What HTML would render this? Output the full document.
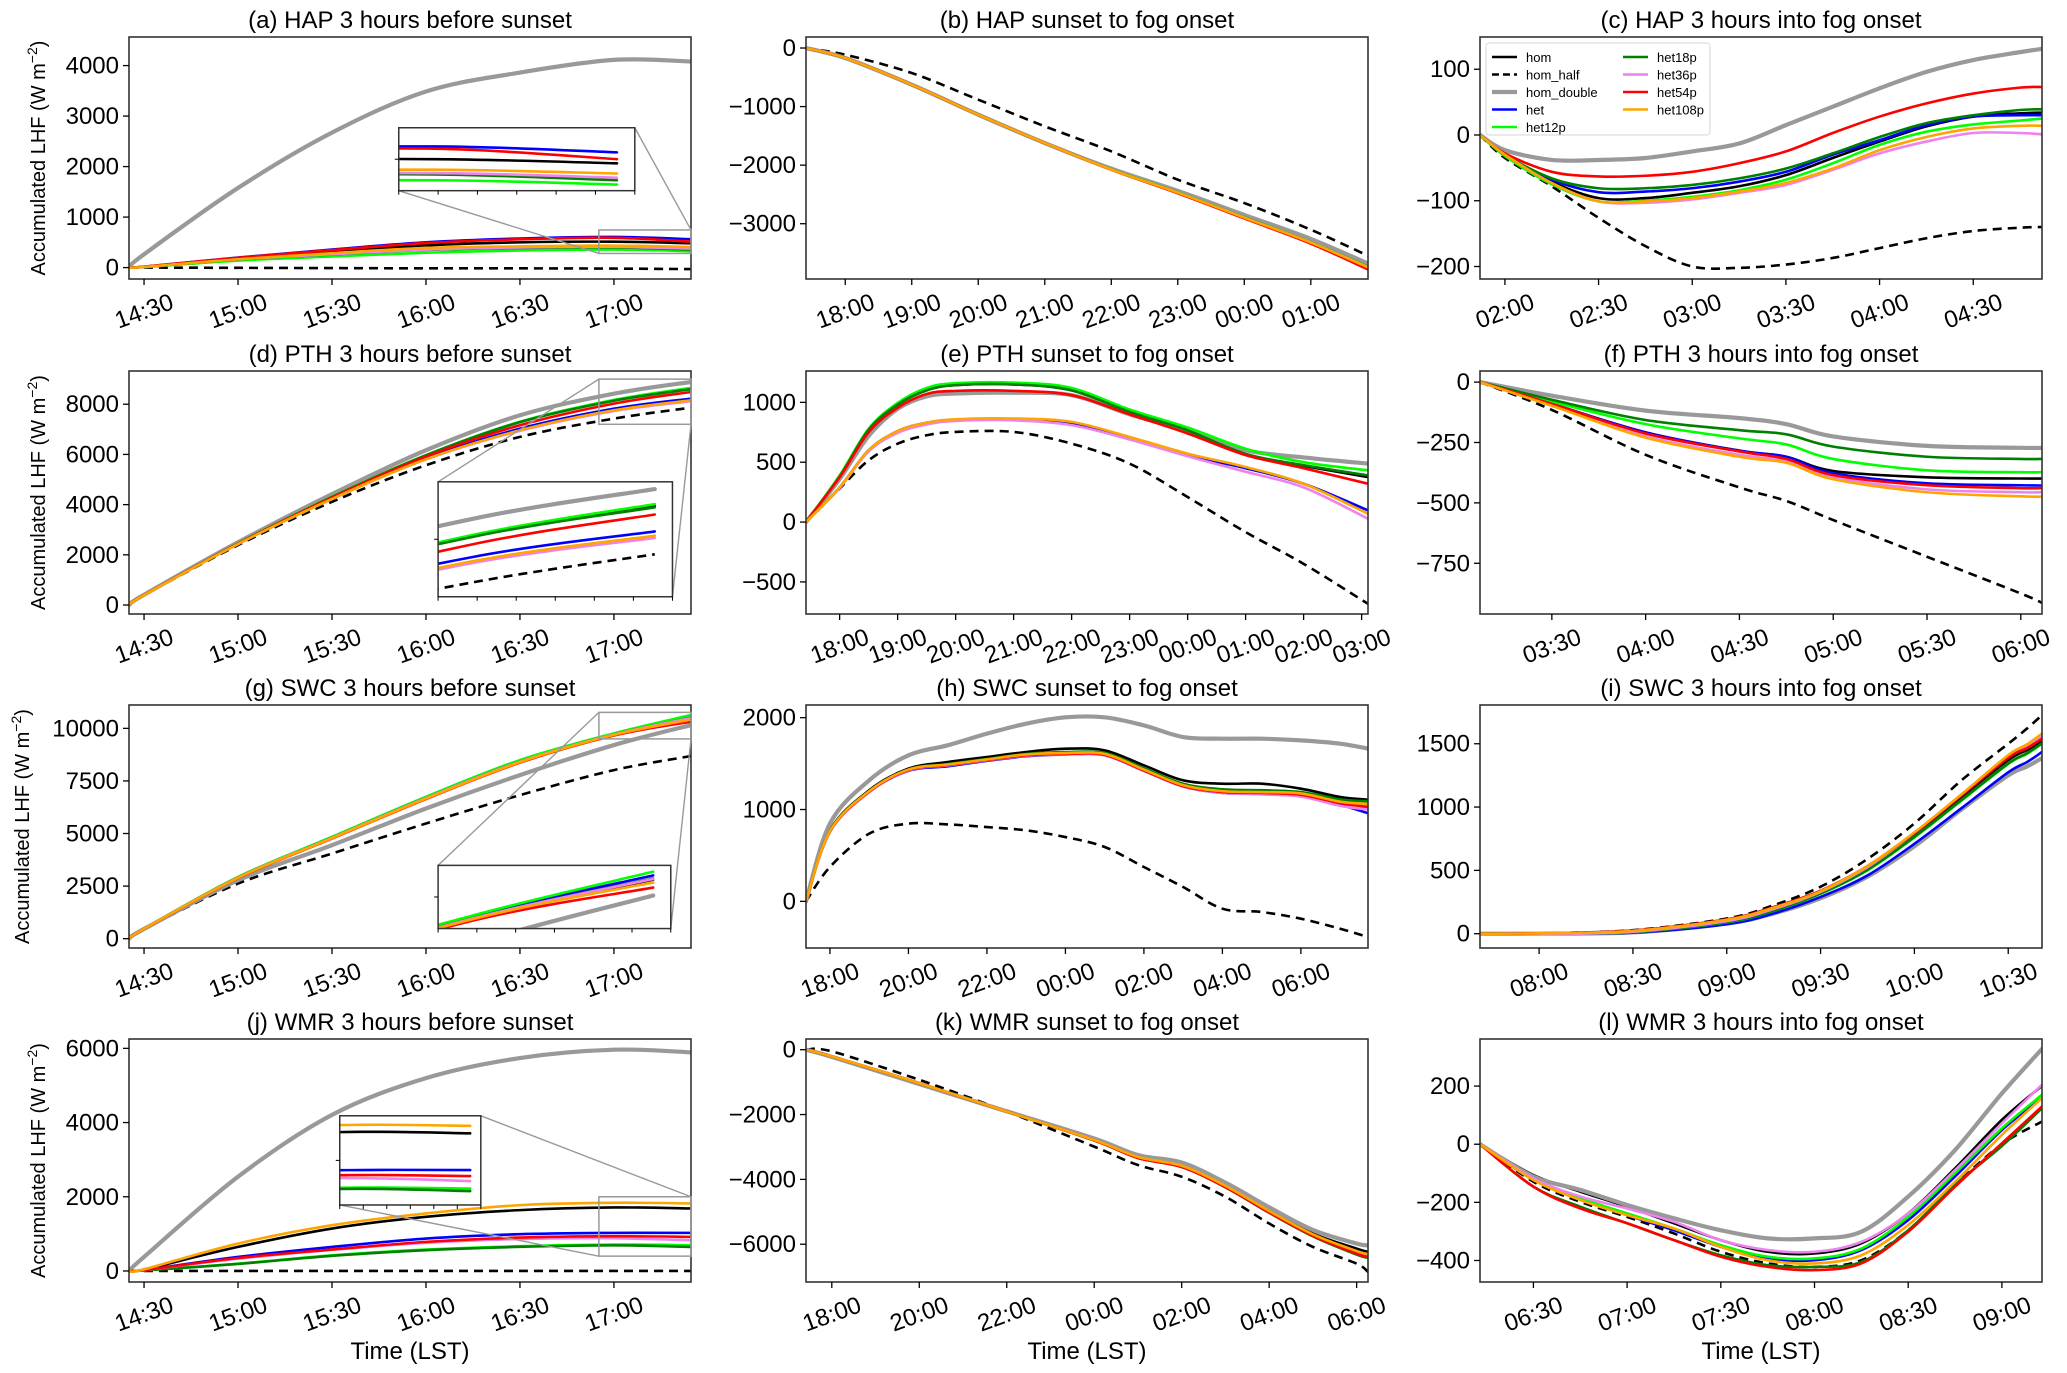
<!DOCTYPE html>
<html><head><meta charset="utf-8"><title>Accumulated LHF</title>
<style>
html,body{margin:0;padding:0;background:#fff;}
svg{display:block;font-family:"Liberation Sans","DejaVu Sans",sans-serif;}
</style></head>
<body>
<svg id="fig" width="2067" height="1373" viewBox="0 0 2067 1373" xmlns="http://www.w3.org/2000/svg"></svg>
<script>
// ---------- DATA ----------
const seriesNames = ["hom","hom_half","hom_double","het","het12p","het18p","het36p","het54p","het108p"];
// (a) HAP before sunset
const aTimes = [14.42,14.5,15.0,15.5,16.0,16.5,17.0,17.41];
const aHom = [0,15,170,300,438,500,513,482];
const aHalf = [0,0,-5,-10,-15,-15,-20,-30];
const aDouble = [0,263,1577,2673,3487,3862,4113,4081];
const aHet = [0,18,200,357,500,576,607,563];
const aHet12 = [0,10,138,220,294,340,357,325];
const aHet18 = [0,12,160,260,350,390,400,357];
const aHet36 = [0,12,165,265,355,400,410,376];
const aHet54 = [0,17,195,345,485,560,590,513];
const aHet108 = [0,14,165,285,390,420,435,407];
// (b) HAP sunset to fog
const bTimes = [17.41,18,19,20,21,22,23,24,25,25.86];
const bHom = [0,-171,-626,-1138,-1622,-2077,-2476,-2903,-3330,-3757];
const bHalf = [0,-114,-427,-882,-1337,-1764,-2248,-2647,-3102,-3546];
const bDouble = [0,-171,-626,-1138,-1622,-2060,-2440,-2850,-3260,-3680];
const bHet = [0,-171,-626,-1138,-1622,-2075,-2470,-2895,-3320,-3740];
const bHet12 = [0,-171,-626,-1138,-1622,-2070,-2465,-2890,-3315,-3730];
const bHet18 = [0,-171,-626,-1138,-1622,-2072,-2468,-2892,-3318,-3735];
const bHet36 = [0,-171,-626,-1138,-1622,-2075,-2470,-2895,-3320,-3740];
const bHet54 = [0,-171,-626,-1138,-1622,-2077,-2480,-2910,-3340,-3780];
const bHet108 = [0,-171,-626,-1138,-1622,-2074,-2470,-2897,-3322,-3745];
// (c) HAP into fog
const cTimes = [1.867,2.0,2.25,2.5,2.75,3.0,3.25,3.5,3.75,4.0,4.25,4.5,4.75,4.867];
const cHom = [0,-30,-71,-96,-96,-88,-78,-61,-35,-10,13,28,33,34];
const cHalf = [0,-35,-78,-126,-169,-200,-202,-197,-187,-172,-157,-146,-141,-140];
const cDouble = [0,-23,-38,-38,-35,-25,-13,15,43,71,96,114,126,131];
const cHet = [0,-30,-68,-87,-86,-81,-71,-56,-30,-8,15,28,30,30];
const cHet12 = [0,-32,-75,-101,-100,-94,-84,-68,-43,-15,5,16,22,25];
const cHet18 = [0,-30,-66,-81,-81,-76,-66,-51,-28,-3,18,30,38,39];
const cHet36 = [0,-30,-73,-101,-103,-98,-88,-76,-53,-28,-10,3,3,1];
const cHet54 = [0,-28,-56,-63,-62,-56,-43,-25,3,28,48,63,72,73];
const cHet108 = [0,-30,-73,-101,-101,-96,-86,-73,-51,-23,-3,10,14,14];
// (d) PTH before sunset
const dTimes = [14.42,14.5,15.0,15.5,16.0,16.5,17.0,17.41];
const dHom = [0,398,2454,4310,5968,7294,8156,8620];
const dHalf = [0,390,2387,4111,5570,6698,7427,7865];
const dDouble = [0,405,2500,4416,6167,7560,8422,8886];
const dHet = [0,398,2440,4250,5850,7029,7825,8223];
const dHet12 = [0,398,2454,4310,5968,7300,8170,8650];
const dHet18 = [0,398,2450,4300,5960,7285,8140,8600];
const dHet36 = [0,395,2430,4220,5800,6940,7730,8120];
const dHet54 = [0,398,2445,4280,5920,7162,8024,8488];
const dHet108 = [0,395,2430,4225,5810,6963,7759,8156];
// (e) PTH sunset to fog
const eTimes = [17.42,18,18.5,19,19.5,20,21,22,23,24,25,26,27.11];
const eHom = [0,380,767,980,1100,1144,1150,1100,920,770,560,470,376];
const eHalf = [0,280,516,655,725,753,753,655,488,209,-84,-349,-683];
const eDouble = [0,360,720,945,1050,1074,1080,1060,900,760,600,540,488];
const eHet = [0,290,600,760,830,855,860,820,700,560,450,320,98];
const eHet12 = [0,390,780,995,1120,1160,1165,1120,940,790,613,500,432];
const eHet18 = [0,380,770,980,1100,1144,1150,1100,920,765,570,475,390];
const eHet36 = [0,285,590,745,815,845,850,810,690,550,420,290,28];
const eHet54 = [0,375,750,955,1070,1096,1096,1060,900,740,560,450,320];
const eHet108 = [0,290,600,760,830,859,865,837,711,572,460,320,70];
// (f) PTH into fog
const fTimes = [3.117,3.5,4.0,4.5,4.75,5.0,5.5,6.0,6.113];
const fHom = [0,-90,-208,-284,-309,-368,-394,-399,-399];
const fHalf = [0,-115,-301,-436,-492,-571,-723,-875,-914];
const fDouble = [0,-56,-118,-149,-174,-225,-264,-272,-272];
const fHet = [0,-90,-208,-284,-309,-377,-419,-427,-428];
const fHet12 = [0,-81,-174,-233,-258,-318,-365,-373,-373];
const fHet18 = [0,-73,-157,-199,-216,-267,-309,-318,-318];
const fHet36 = [0,-98,-225,-301,-326,-394,-444,-456,-456];
const fHet54 = [0,-90,-213,-287,-318,-385,-427,-439,-439];
const fHet108 = [0,-98,-230,-309,-334,-402,-456,-473,-474];
// (g) SWC before sunset
const gTimes = [14.42,14.5,15.0,15.5,16.0,16.5,17.0,17.41];
const gHom = [0,476,2900,4790,6680,8410,9700,10476];
const gHalf = [0,460,2619,4048,5476,6825,8016,8683];
const gDouble = [0,460,2778,4444,6190,7778,9206,10159];
const gHet = [0,476,2920,4820,6720,8460,9740,10560];
const gHet12 = [0,476,2937,4841,6746,8492,9762,10635];
const gHet18 = [0,476,2910,4800,6690,8420,9710,10500];
const gHet36 = [0,476,2905,4795,6685,8415,9705,10490];
const gHet54 = [0,470,2880,4760,6640,8370,9660,10317];
const gHet108 = [0,472,2895,4780,6660,8395,9690,10420];
// (h) SWC sunset to fog
const hTimes = [17.39,18,19,20,21,22,23,24,25,26,27,28,29,30,31,31.71];
const hHom = [0,773,1209,1445,1517,1572,1626,1662,1644,1481,1318,1281,1281,1227,1136,1107];
const hHalf = [0,374,737,846,838,809,773,700,592,374,156,-80,-116,-189,-298,-388];
const hDouble = [0,846,1318,1590,1699,1826,1935,2004,2004,1916,1789,1771,1771,1753,1717,1663];
const hHet = [0,760,1190,1420,1470,1530,1580,1600,1590,1420,1250,1180,1170,1150,1050,960];
const hHet12 = [0,765,1195,1430,1490,1545,1600,1620,1610,1440,1270,1210,1200,1180,1090,1040];
const hHet18 = [0,768,1200,1435,1495,1550,1605,1625,1615,1450,1280,1220,1210,1190,1110,1090];
const hHet36 = [0,760,1190,1425,1480,1535,1585,1600,1590,1420,1250,1180,1165,1140,1040,1000];
const hHet54 = [0,760,1195,1430,1485,1540,1590,1605,1595,1425,1255,1190,1180,1160,1070,1027];
const hHet108 = [0,765,1200,1435,1490,1545,1600,1615,1605,1435,1265,1200,1190,1175,1085,1060];
// (i) SWC into fog
const iTimes = [7.685,8.0,8.5,9.0,9.25,9.5,9.75,10.0,10.25,10.5,10.6,10.68];
const iHom = [0,3,25,113,210,339,532,790,1081,1371,1450,1516];
const iHalf = [0,3,28,120,225,371,590,871,1210,1500,1620,1726];
const iDouble = [0,0,10,80,160,280,450,690,980,1250,1320,1387];
const iHet = [0,0,8,75,160,290,460,710,990,1274,1355,1435];
const iHet12 = [0,0,12,90,180,315,500,760,1050,1340,1420,1500];
const iHet18 = [0,0,12,92,182,318,505,765,1055,1345,1425,1505];
const iHet36 = [0,-3,15,100,195,330,525,795,1095,1400,1480,1560];
const iHet54 = [0,3,25,113,210,339,535,795,1090,1390,1465,1540];
const iHet108 = [0,3,22,110,205,335,535,800,1100,1410,1495,1581];
// (j) WMR before sunset
const jTimes = [14.42,14.5,15.0,15.5,16.0,16.5,17.0,17.41];
const jHom = [0,40,649,1144,1459,1640,1712,1685];
const jHalf = [0,0,0,0,0,0,0,0];
const jDouble = [0,378,2541,4207,5198,5739,5964,5892];
const jHet = [0,25,378,649,874,991,1027,1027];
const jHet12 = [0,15,198,423,577,667,712,694];
const jHet18 = [0,14,190,410,560,650,690,649];
const jHet36 = [0,22,330,570,760,860,880,829];
const jHet54 = [0,24,350,577,784,901,937,919];
const jHet108 = [0,45,739,1234,1550,1775,1838,1820];
// (k) WMR sunset to fog
const kTimes = [17.41,18,20,22,24,25,26,27,28,29,30,30.26];
const kHom = [0,-206,-1031,-1907,-2784,-3299,-3557,-4175,-4948,-5670,-6134,-6237];
const kHalf = [0,-52,-928,-1907,-2990,-3557,-3918,-4536,-5361,-6082,-6598,-6856];
const kDouble = [0,-220,-1060,-1900,-2740,-3250,-3480,-4100,-4860,-5560,-5980,-6031];
const kHet = [0,-206,-1031,-1907,-2790,-3330,-3600,-4220,-5000,-5720,-6260,-6350];
const kHet12 = [0,-206,-1031,-1907,-2795,-3335,-3610,-4230,-5015,-5740,-6300,-6400];
const kHet18 = [0,-206,-1031,-1907,-2800,-3340,-3620,-4245,-5030,-5755,-6320,-6420];
const kHet36 = [0,-206,-1031,-1907,-2790,-3325,-3600,-4220,-5000,-5720,-6265,-6360];
const kHet54 = [0,-206,-1031,-1907,-2800,-3340,-3620,-4240,-5020,-5740,-6290,-6392];
const kHet108 = [0,-206,-1031,-1907,-2786,-3310,-3580,-4200,-4975,-5695,-6210,-6300];
// (l) WMR into fog
const lTimes = [6.215,6.5,6.75,7.0,7.25,7.5,7.75,8.0,8.25,8.5,8.75,9.0,9.214];
const lHom = [0,-106,-163,-215,-272,-330,-370,-376,-341,-238,-83,84,201];
const lHalf = [0,-129,-198,-250,-307,-370,-410,-422,-399,-296,-140,0,78];
const lDouble = [0,-111,-157,-209,-255,-296,-324,-324,-301,-180,-20,175,328];
const lHet = [0,-123,-186,-244,-296,-353,-393,-399,-364,-261,-111,49,159];
const lHet12 = [0,-123,-186,-238,-290,-347,-387,-393,-359,-250,-100,55,170];
const lHet18 = [0,-146,-215,-272,-330,-382,-416,-422,-405,-296,-140,-6,124];
const lHet36 = [0,-117,-180,-221,-267,-330,-364,-370,-336,-238,-89,72,205];
const lHet54 = [0,-146,-221,-272,-330,-387,-422,-433,-410,-301,-146,3,130];
const lHet108 = [0,-123,-192,-244,-290,-353,-399,-410,-382,-278,-129,32,159];
// tick values
const tBefore = [14.5,15,15.5,16,16.5,17];
const tB = [18,19,20,21,22,23,24,25];
const tC = [2,2.5,3,3.5,4,4.5];
const tE = [18,19,20,21,22,23,24,25,26,27];
const tF = [3.5,4,4.5,5,5.5,6];
const tH = [18,20,22,24,26,28,30];
const tI = [8,8.5,9,9.5,10,10.5];
const tK = [18,20,22,24,26,28,30];
const tL = [6.5,7,7.5,8,8.5,9];
const yA = [0,1000,2000,3000,4000];
const yB = [0,-1000,-2000,-3000];
const yC = [100,0,-100,-200];
const yD = [0,2000,4000,6000,8000];
const yE = [1000,500,0,-500];
const yF = [0,-250,-500,-750];
const yG = [0,2500,5000,7500,10000];
const yH = [0,1000,2000];
const yI = [0,500,1000,1500];
const yJ = [0,2000,4000,6000];
const yK = [0,-2000,-4000,-6000];
const yL = [200,0,-200,-400];

// ---------- STYLE ----------
const styles = {
  hom:{c:"#000000",w:2.6},
  hom_half:{c:"#000000",w:2.6,dash:"9,6"},
  hom_double:{c:"#999999",w:4.2},
  het:{c:"#0000ff",w:2.6},
  het12p:{c:"#00ff00",w:2.6},
  het18p:{c:"#008000",w:2.6},
  het36p:{c:"#ee82ee",w:2.6},
  het54p:{c:"#ff0000",w:2.6},
  het108p:{c:"#ffa500",w:2.6}
};
const NS="http://www.w3.org/2000/svg";
const fig=document.getElementById('fig');
function mk(tag,attrs,parent){const e=document.createElementNS(NS,tag);for(const k in attrs)e.setAttribute(k,attrs[k]);(parent||fig).appendChild(e);return e;}
function fmt(h){let hh=Math.floor(h+1e-6);const mm=Math.round((h-hh)*60);hh=((hh%24)+24)%24;return String(hh).padStart(2,'0')+':'+String(mm).padStart(2,'0');}
function smoothPath(pts){
  let d='M'+pts[0][0].toFixed(2)+','+pts[0][1].toFixed(2);
  for(let i=0;i<pts.length-1;i++){
    const p0=pts[Math.max(0,i-1)],p1=pts[i],p2=pts[i+1],p3=pts[Math.min(pts.length-1,i+2)];
    const c1=[p1[0]+(p2[0]-p0[0])/6,p1[1]+(p2[1]-p0[1])/6];
    const c2=[p2[0]-(p3[0]-p1[0])/6,p2[1]-(p3[1]-p1[1])/6];
    d+=' C'+c1[0].toFixed(2)+','+c1[1].toFixed(2)+' '+c2[0].toFixed(2)+','+c2[1].toFixed(2)+' '+p2[0].toFixed(2)+','+p2[1].toFixed(2);
  }
  return d;
}
let clipId=0;
function drawLines(g,P,times,series,sx,sy){
  const cid='clip'+(clipId++);
  const cp=mk('clipPath',{id:cid},g);
  mk('rect',{x:P.x0,y:P.y0,width:P.x1-P.x0,height:P.y1-P.y0},cp);
  const lg=mk('g',{'clip-path':'url(#'+cid+')'},g);
  seriesNames.forEach((nm,si)=>{
    const vals=series[si];const st=styles[nm];
    const pts=times.map((t,i)=>[sx(t),sy(vals[i])]);
    const p=mk('path',{d:smoothPath(pts),fill:'none',stroke:st.c,'stroke-width':st.w,'stroke-linejoin':'round','stroke-linecap':st.dash?'butt':'round'},lg);
    if(st.dash)p.setAttribute('stroke-dasharray',st.dash);
    
    
  });
}
function panel(P){
  const g=mk('g',{});
  
  
  const sx=v=>P.x0+(v-P.xd[0])/(P.xd[1]-P.xd[0])*(P.x1-P.x0);
  const sy=v=>P.y1-(v-P.yd[0])/(P.yd[1]-P.yd[0])*(P.y1-P.y0);
  drawLines(g,P,P.times,P.series,sx,sy);
  const fr=mk('rect',{x:P.x0,y:P.y0,width:P.x1-P.x0,height:P.y1-P.y0,fill:'none',stroke:'#333','stroke-width':1.6},g);
  
  
  P.xt.forEach(t=>{
    const x=sx(t);
    mk('line',{x1:x,x2:x,y1:P.y1,y2:P.y1+6,stroke:'#000','stroke-width':1.3},g);
    const tx=mk('text',{x:x,y:P.y1+40,'font-size':24,'text-anchor':'middle',transform:'rotate(-20 '+x+' '+(P.y1+32)+')'},g);
    tx.textContent=fmt(t);
    
    
  });
  P.yt.forEach(v=>{
    const y=sy(v);
    mk('line',{x1:P.x0-6,x2:P.x0,y1:y,y2:y,stroke:'#000','stroke-width':1.3},g);
    const tx=mk('text',{x:P.x0-10,y:y+8,'font-size':24,'text-anchor':'end'},g);
    tx.textContent=(v<0?'\u2212':'')+Math.abs(v);
    
    
  });
  const tt=mk('text',{x:(P.x0+P.x1)/2,y:P.y0-9,'font-size':24,'text-anchor':'middle'},g);
  tt.textContent=P.title;
  
  
  if(P.ylab){
    const cy=(P.y0+P.y1)/2;
    const yl=mk('text',{x:P.ylab,y:cy,'font-size':20,'text-anchor':'middle',transform:'rotate(-90 '+P.ylab+' '+cy+')'},g);
    yl.innerHTML='Accumulated LHF (W m<tspan dy="-8" font-size="14">\u22122</tspan><tspan dy="8">)</tspan>';
    
    
  }
  if(P.xlab){
    const xl=mk('text',{x:(P.x0+P.x1)/2,y:1359,'font-size':24,'text-anchor':'middle'},g);
    xl.textContent='Time (LST)';
    
    
  }
  if(P.inset){
    const I=P.inset;
    const ix0=P.x0+I.fx[0]*(P.x1-P.x0),ix1=P.x0+I.fx[1]*(P.x1-P.x0);
    const iy0=P.y0+I.fy[0]*(P.y1-P.y0),iy1=P.y0+I.fy[1]*(P.y1-P.y0);
    const bx0=sx(I.xd[0]),bx1=Math.min(sx(I.xd[1]),P.x1),by0=sy(I.yd[1]),by1=sy(I.yd[0]);
    const ig=mk('g',{},g);
    
    
    mk('rect',{x:bx0,y:by0,width:bx1-bx0,height:by1-by0,fill:'none',stroke:'#999','stroke-width':1.5},ig);
    const corners={tl:[ix0,iy0,bx0,by0],tr:[ix1,iy0,bx1,by0],bl:[ix0,iy1,bx0,by1],br:[ix1,iy1,bx1,by1]};
    I.conn.forEach(c=>{const q=corners[c];mk('line',{x1:q[0],y1:q[1],x2:q[2],y2:q[3],stroke:'#999','stroke-width':1.4},ig);});
    mk('rect',{x:ix0,y:iy0,width:ix1-ix0,height:iy1-iy0,fill:'#fff'},ig);
    const IP={x0:ix0,x1:ix1,y0:iy0,y1:iy1};
    const isx=v=>ix0+(v-I.xd[0])/(I.xd[1]-I.xd[0])*(ix1-ix0);
    const isy=v=>iy1-(v-I.yd[0])/(I.yd[1]-I.yd[0])*(iy1-iy0);
    drawLines(ig,IP,P.times,P.series,isx,isy);
    mk('rect',{x:ix0,y:iy0,width:ix1-ix0,height:iy1-iy0,fill:'none',stroke:'#333','stroke-width':1.5},ig);
    for(let k=0;k<7;k++){const x=ix0+k*(ix1-ix0)/6;mk('line',{x1:x,x2:x,y1:iy1,y2:iy1+4,stroke:'#000','stroke-width':1},ig);}
    mk('line',{x1:ix0-4,x2:ix0,y1:(iy0+iy1)/2,y2:(iy0+iy1)/2,stroke:'#000','stroke-width':1},ig);
  }
  if(P.legend){
    const lg=mk('g',{},g);
    
    
    mk('rect',{x:P.x0+6,y:P.y0+6,width:224,height:92,rx:3,fill:'#fff',stroke:'#ddd','stroke-width':1.2},lg);
    seriesNames.forEach((nm,i)=>{
      const col=i<5?0:1,row=i<5?i:i-5;
      const lx=P.x0+12+col*131,ly=P.y0+20+row*17.5;
      const st=styles[nm];
      const ln=mk('line',{x1:lx,x2:lx+25,y1:ly,y2:ly,stroke:st.c,'stroke-width':st.w},lg);
      if(st.dash)ln.setAttribute('stroke-dasharray','7,4');
      const tx=mk('text',{x:lx+34,y:ly+5,'font-size':13},lg);
      tx.textContent=nm;
      
      
    });
  }
}
const C1=[129,691],C2=[806,1368],C3=[1480,2042];
const R1=[37,279],R2=[371,614],R3=[705,948],R4=[1039,1282];
function P(id,c,r,title,xd,yd,times,series,xt,yt,extra){return Object.assign({id:id,x0:c[0],x1:c[1],y0:r[0],y1:r[1],title:title,xd:xd,yd:yd,times:times,series:series,xt:xt,yt:yt},extra||{});}
panel(P('a',C1,R1,'(a) HAP 3 hours before sunset',[14.42,17.41],[-226,4566],aTimes,[aHom,aHalf,aDouble,aHet,aHet12,aHet18,aHet36,aHet54,aHet108],tBefore,yA,
  {ylab:45,inset:{fx:[0.48,0.90],fy:[0.375,0.635],xd:[16.92,17.45],yd:[280,745],conn:['bl','tr']}}));
panel(P('b',C2,R1,'(b) HAP sunset to fog onset',[17.41,25.86],[-3944,188],bTimes,[bHom,bHalf,bDouble,bHet,bHet12,bHet18,bHet36,bHet54,bHet108],tB,yB));
panel(P('c',C3,R1,'(c) HAP 3 hours into fog onset',[1.867,4.867],[-219,149],cTimes,[cHom,cHalf,cDouble,cHet,cHet12,cHet18,cHet36,cHet54,cHet108],tC,yC,{legend:true}));
panel(P('d',C1,R2,'(d) PTH 3 hours before sunset',[14.42,17.41],[-358,9324],dTimes,[dHom,dHalf,dDouble,dHet,dHet12,dHet18,dHet36,dHet54,dHet108],tBefore,yD,
  {ylab:45,inset:{fx:[0.55,0.967],fy:[0.456,0.929],xd:[16.92,17.45],yd:[7200,9000],conn:['tl','br']}}));
panel(P('e',C2,R2,'(e) PTH sunset to fog onset',[17.42,27.11],[-768,1262],eTimes,[eHom,eHalf,eDouble,eHet,eHet12,eHet18,eHet36,eHet54,eHet108],tE,yE));
panel(P('f',C3,R2,'(f) PTH 3 hours into fog onset',[3.117,6.113],[-960,46],fTimes,[fHom,fHalf,fDouble,fHet,fHet12,fHet18,fHet36,fHet54,fHet108],tF,yF));
panel(P('g',C1,R3,'(g) SWC 3 hours before sunset',[14.42,17.41],[-444,11111],gTimes,[gHom,gHalf,gDouble,gHet,gHet12,gHet18,gHet36,gHet54,gHet108],tBefore,yG,
  {ylab:29,inset:{fx:[0.55,0.964],fy:[0.66,0.92],xd:[16.92,17.45],yd:[9500,10760],conn:['tl','br']}}));
panel(P('h',C2,R3,'(h) SWC sunset to fog onset',[17.39,31.71],[-508,2138],hTimes,[hHom,hHalf,hDouble,hHet,hHet12,hHet18,hHet36,hHet54,hHet108],tH,yH));
panel(P('i',C3,R3,'(i) SWC 3 hours into fog onset',[7.685,10.68],[-113,1806],iTimes,[iHom,iHalf,iDouble,iHet,iHet12,iHet18,iHet36,iHet54,iHet108],tI,yI));
panel(P('j',C1,R4,'(j) WMR 3 hours before sunset',[14.42,17.41],[-297,6252],jTimes,[jHom,jHalf,jDouble,jHet,jHet12,jHet18,jHet36,jHet54,jHet108],tBefore,yJ,
  {ylab:45,xlab:true,inset:{fx:[0.375,0.626],fy:[0.316,0.683],xd:[16.92,17.45],yd:[400,2000],conn:['bl','tr']}}));
panel(P('k',C2,R4,'(k) WMR sunset to fog onset',[17.41,30.26],[-7165,330],kTimes,[kHom,kHalf,kDouble,kHet,kHet12,kHet18,kHet36,kHet54,kHet108],tK,yK,{xlab:true}));
panel(P('l',C3,R4,'(l) WMR 3 hours into fog onset',[6.215,9.214],[-474,362],lTimes,[lHom,lHalf,lDouble,lHet,lHet12,lHet18,lHet36,lHet54,lHet108],tL,yL,{xlab:true}));
</script>
</body></html>
